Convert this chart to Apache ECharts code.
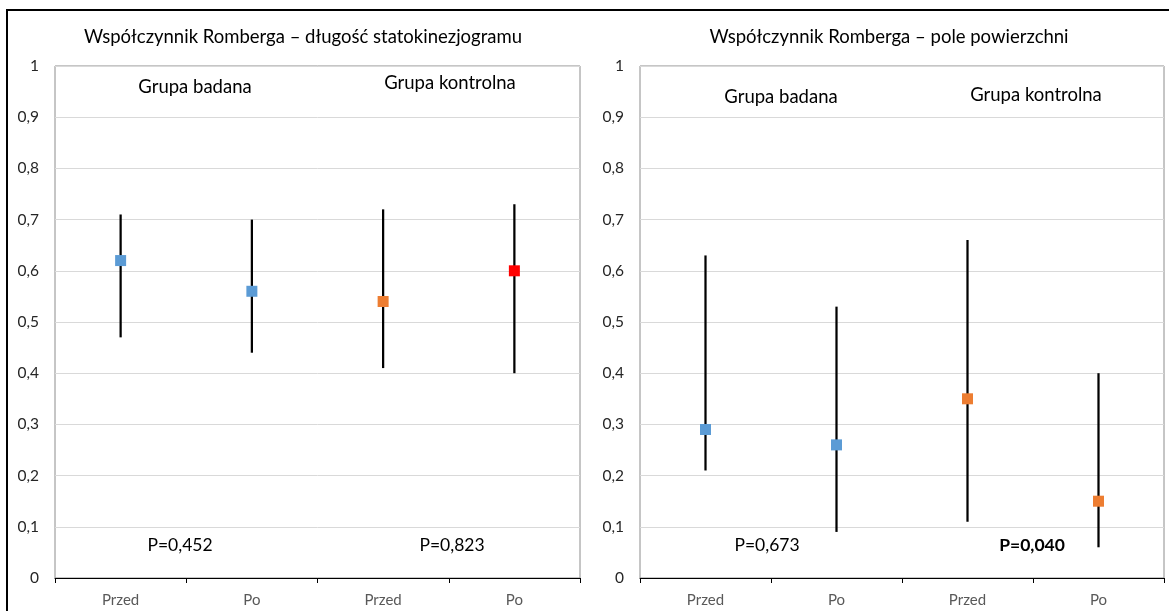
<!DOCTYPE html>
<html>
<head>
<meta charset="utf-8">
<script src="https://cdn.jsdelivr.net/npm/echarts@6/dist/echarts.min.js"></script>
<style>
  html, body { margin: 0; padding: 0; background: #fff; }
  #chart { width: 1169px; height: 611px; }
</style>
</head>
<body>
<div id="chart"></div>
<script>
// Romberg quotient: mean with range for each group, before and after
const categories = ['Przed', 'Po', 'Przed', 'Po'];

// Panel 1: długość statokinezjogramu
const lengthMean = [0.62, 0.56, 0.54, 0.60];
const lengthLow  = [0.47, 0.44, 0.41, 0.40];
const lengthHigh = [0.71, 0.70, 0.72, 0.73];

// Panel 2: pole powierzchni
const areaMean = [0.29, 0.26, 0.35, 0.15];
const areaLow  = [0.21, 0.09, 0.11, 0.06];
const areaHigh = [0.63, 0.53, 0.66, 0.40];

const titles = ['Współczynnik Romberga – długość statokinezjogramu', 'Współczynnik Romberga – pole powierzchni'];
const groupLabels = ['Grupa badana', 'Grupa kontrolna'];
const pLength = ['P=0,452', 'P=0,823'];
const pArea = ['P=0,673', 'P=0,040'];

// marker colours per point
const lengthColors = ['#5b9bd5', '#5b9bd5', '#ed7d31', '#ff0000'];
const areaColors = ['#5b9bd5', '#5b9bd5', '#ed7d31', '#ed7d31'];

const FONT = 'Lato, "Open Sans", sans-serif';

function yAxisFor(gridIndex) {
  return {
    type: 'value', gridIndex: gridIndex, min: 0, max: 1, interval: 0.1,
    axisLine: { show: false }, axisTick: { show: false },
    splitLine: { lineStyle: { color: '#d9d9d9', width: 1 } },
    axisLabel: {
      margin: 16, color: '#262626', fontSize: 15.5, fontFamily: FONT,
      formatter: v => String(Math.round(v * 10) / 10).replace('.', ',')
    }
  };
}

function xAxisFor(gridIndex) {
  return {
    type: 'category', gridIndex: gridIndex, data: categories, boundaryGap: true,
    axisLine: { lineStyle: { color: '#000', width: 1 } },
    axisTick: { show: true, length: 5, lineStyle: { color: '#000' } },
    axisLabel: { margin: 15, color: '#595959', fontSize: 15, fontFamily: FONT },
    splitLine: { show: false }
  };
}

function rangeSeries(idx, low, high) {
  return {
    type: 'custom', xAxisIndex: idx, yAxisIndex: idx, z: 2,
    data: low.map((v, i) => [i, v, high[i]]),
    renderItem: (params, api) => {
      const p1 = api.coord([api.value(0), api.value(1)]);
      const p2 = api.coord([api.value(0), api.value(2)]);
      return {
        type: 'line',
        shape: { x1: p1[0], y1: p1[1], x2: p2[0], y2: p2[1] },
        style: { stroke: '#000', lineWidth: 2.25 }
      };
    }
  };
}

function meanSeries(idx, mean, colors) {
  return {
    type: 'scatter', xAxisIndex: idx, yAxisIndex: idx, z: 5,
    symbol: 'rect', symbolSize: 11,
    data: mean.map((v, i) => [i, v]),
    itemStyle: { color: p => colors[p.dataIndex], opacity: 1 }
  };
}

function text(str, x, y, size, weight) {
  return {
    type: 'text', x: x, y: y, silent: true,
    style: {
      text: str, fill: '#000', font: (weight || 'normal') + ' ' + size + 'px ' + FONT,
      textAlign: 'center', textVerticalAlign: 'middle'
    }
  };
}

const chart = echarts.init(document.getElementById('chart'), null, { renderer: 'canvas' });
chart.setOption({
  backgroundColor: '#fff',
  animation: false,
  grid: [
    { left: 55, top: 66, width: 525, height: 512, show: true, borderColor: '#8c8c8c', borderWidth: 1, backgroundColor: 'transparent' },
    { left: 640, top: 66, width: 524, height: 512, show: true, borderColor: '#8c8c8c', borderWidth: 1, backgroundColor: 'transparent' }
  ],
  xAxis: [xAxisFor(0), xAxisFor(1)],
  yAxis: [yAxisFor(0), yAxisFor(1)],
  series: [
    rangeSeries(0, lengthLow, lengthHigh),
    meanSeries(0, lengthMean, lengthColors),
    rangeSeries(1, areaLow, areaHigh),
    meanSeries(1, areaMean, areaColors)
  ],
  graphic: [
    { type: 'rect', shape: { x: 7, y: 10, width: 1200, height: 700 }, style: { fill: 'none', stroke: '#000', lineWidth: 2 }, silent: true },
    text(titles[0], 303, 37, 18.5),
    text(titles[1], 889, 37, 18.5),
    text(groupLabels[0], 195, 87, 18.5),
    text(groupLabels[1], 450, 83, 18.5),
    text(pLength[0], 180, 545, 17.5),
    text(pLength[1], 452, 545, 17.5),
    text(groupLabels[0], 781, 97, 18.5),
    text(groupLabels[1], 1036, 95, 18.5),
    text(pArea[0], 767, 545, 17.5),
    text(pArea[1], 1032, 545, 17.5, 'bold')
  ]
});
</script>
</body>
</html>
